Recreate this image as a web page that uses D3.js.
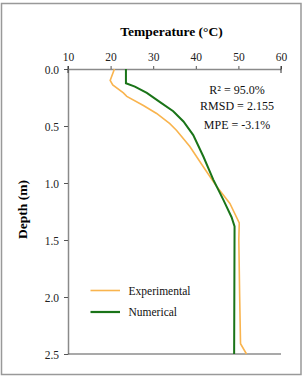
<!DOCTYPE html>
<html>
<head>
<meta charset="utf-8">
<script src="https://cdn.jsdelivr.net/npm/d3@7"></script>
<style>
  html, body { margin: 0; padding: 0; background: #fff; }
  svg, svg text { font-family: "Liberation Serif", "DejaVu Serif", serif; }
</style>
</head>
<body>
<div id="chart"></div>
<script>
// ── Data ────────────────────────────────────────────────────────────────────
const expDepth = [0, 0.1, 0.14, 0.21, 0.24, 0.32, 0.39, 0.48, 0.54, 0.68, 0.86, 1.03, 1.18, 1.35, 1.5, 2.0, 2.41, 2.5];
const expTemp  = [20.9, 19.9, 20.5, 23.0, 23.8, 27.7, 30.8, 33.9, 35.5, 38.6, 41.8, 44.9, 48.0, 50.2, 50.1, 50.3, 50.5, 51.9];

const numDepth = [0, 0.125, 0.155, 0.21, 0.29, 0.37, 0.46, 0.58, 0.77, 0.97, 1.15, 1.30, 1.38, 2.5];
const numTemp  = [23.6, 23.6, 25.7, 28.5, 31.6, 34.7, 37.1, 39.4, 41.8, 44.1, 46.5, 48.4, 49.1, 49.0];

const xTicks = [10, 20, 30, 40, 50, 60];
const yTicks = [0, 0.5, 1.0, 1.5, 2.0, 2.5];
const stats  = ['R² = 95.0%', 'RMSD = 2.155', 'MPE = -3.1%'];

const ORANGE = '#f9b44e';
const GREEN  = '#1a7418';
const AXIS   = '#8a8a8a';
const FONT   = '"Liberation Serif", "DejaVu Serif", serif';

// ── Layout ──────────────────────────────────────────────────────────────────
const W = 303, H = 376;
const m = { top: 69, left: 68, right: 22, bottom: 22 };

const svg = d3.select('#chart').append('svg')
  .attr('width', W)
  .attr('height', H)
  .attr('font-family', FONT);

// outer frame
svg.append('rect')
  .attr('x', 1.5).attr('y', 3.5)
  .attr('width', 299.5).attr('height', 371)
  .attr('fill', 'none')
  .attr('stroke', '#999')
  .attr('stroke-width', 1.5);

const x = d3.scaleLinear().domain([10, 60]).range([m.left, W - m.right]);
const y = d3.scaleLinear().domain([0, 2.5]).range([m.top, H - m.bottom]);

// ── Axes ────────────────────────────────────────────────────────────────────
const xAxis = svg.append('g')
  .attr('transform', `translate(0,${m.top})`)
  .call(d3.axisTop(x).tickValues(xTicks).tickFormat(d3.format('d')).tickSize(3).tickSizeOuter(0));

const yAxis = svg.append('g')
  .attr('transform', `translate(${m.left},0)`)
  .call(d3.axisLeft(y).tickValues(yTicks).tickFormat(d3.format('.1f')).tickSize(4).tickSizeOuter(0));

[xAxis, yAxis].forEach(g => {
  g.attr('font-family', FONT).attr('font-size', 11.5);
  g.select('.domain').attr('stroke', AXIS).attr('stroke-width', 1.5);
  g.selectAll('.tick line').attr('stroke', '#555');
  g.selectAll('.tick text')
    .attr('fill', '#222')
    .attr('font-family', FONT)
    .attr('font-size', 11.5);
});
xAxis.selectAll('.tick text').attr('dy', '-0.15em');
yAxis.selectAll('.tick text').attr('x', -9).attr('dy', '0.35em');

// bottom line
svg.append('line')
  .attr('x1', x(10)).attr('x2', x(60))
  .attr('y1', y(2.5)).attr('y2', y(2.5))
  .attr('stroke', '#555')
  .attr('stroke-width', 1.2);

// end ticks crossing the top axis
[10, 60].forEach(v => {
  svg.append('line')
    .attr('x1', x(v)).attr('x2', x(v))
    .attr('y1', y(0) - 3).attr('y2', y(0) + 4)
    .attr('stroke', '#333');
});

// ── Titles ──────────────────────────────────────────────────────────────────
svg.append('text')
  .attr('x', (x(10) + x(60)) / 2 - 3)
  .attr('y', 36)
  .attr('text-anchor', 'middle')
  .attr('font-family', FONT)
  .attr('font-size', 13.5)
  .attr('font-weight', 'bold')
  .text('Temperature (°C)');

svg.append('text')
  .attr('transform', `translate(27,${(y(0) + y(2.5)) / 2 - 2}) rotate(-90)`)
  .attr('text-anchor', 'middle')
  .attr('font-family', FONT)
  .attr('font-size', 13.5)
  .attr('font-weight', 'bold')
  .text('Depth (m)');

// ── Lines ───────────────────────────────────────────────────────────────────
const line = d3.line().x(d => x(d[0])).y(d => y(d[1]));

svg.append('path')
  .datum(expTemp.map((t, i) => [t, expDepth[i]]))
  .attr('d', line)
  .attr('fill', 'none')
  .attr('stroke', ORANGE)
  .attr('stroke-width', 1.6);

svg.append('path')
  .datum(numTemp.map((t, i) => [t, numDepth[i]]))
  .attr('d', line)
  .attr('fill', 'none')
  .attr('stroke', GREEN)
  .attr('stroke-width', 2);

// ── Stats ───────────────────────────────────────────────────────────────────
const statY = [94, 110, 129];
stats.forEach((s, i) => {
  svg.append('text')
    .attr('x', 237)
    .attr('y', statY[i])
    .attr('text-anchor', 'middle')
    .attr('font-family', FONT)
    .attr('font-size', 12)
    .attr('fill', '#111')
    .text(s);
});

// ── Legend ──────────────────────────────────────────────────────────────────
const legend = [
  { label: 'Experimental', color: ORANGE, w: 1.6, yy: 290.5 },
  { label: 'Numerical',    color: GREEN,  w: 2.2, yy: 312 },
];
legend.forEach(l => {
  svg.append('line')
    .attr('x1', 90.5).attr('x2', 120)
    .attr('y1', l.yy).attr('y2', l.yy)
    .attr('stroke', l.color)
    .attr('stroke-width', l.w);
  svg.append('text')
    .attr('x', 128.5)
    .attr('y', l.yy + 4)
    .attr('font-family', FONT)
    .attr('font-size', 11.5)
    .attr('fill', '#111')
    .text(l.label);
});
</script>
</body>
</html>
